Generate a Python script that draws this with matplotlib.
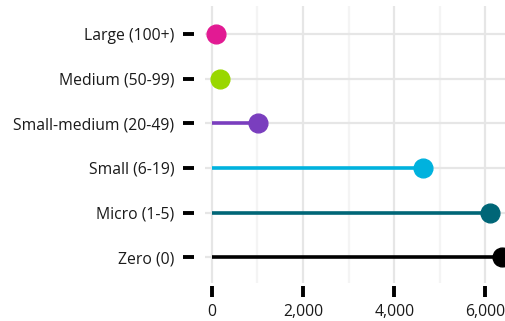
import matplotlib.pyplot as plt
from matplotlib.ticker import FuncFormatter, MultipleLocator

categories = ["Zero (0)", "Micro (1-5)", "Small (6-19)", "Small-medium (20-49)",
              "Medium (50-99)", "Large (100+)"]
values = [6360, 6100, 4630, 1010, 175, 90]
colors = ["#000000", "#006677", "#00B2DE", "#7A3EBE", "#99D700", "#E21A93"]

plt.rcParams['font.family'] = ['Open Sans', 'DejaVu Sans']

fig = plt.figure(figsize=(5.06, 3.21), dpi=100)
W, H = 506, 321
ax = fig.add_axes([205 / W, 1 - 283 / H, 301 / W, 277 / H])

ypos = list(range(len(categories)))
for y, v, c in zip(ypos, values, colors):
    ax.plot([0, v], [y, y], color=c, lw=2.6, solid_capstyle='butt', zorder=3)
    ax.plot(v, y, 'o', color=c, markersize=13.5, zorder=4, clip_on=False)

ax.set_xlim(-150, 6450)
ax.set_ylim(-0.58, 5.63)
ax.set_yticks(ypos)
ax.set_yticklabels(categories)
ax.xaxis.set_major_locator(MultipleLocator(2000))
ax.xaxis.set_minor_locator(MultipleLocator(1000))
ax.xaxis.set_major_formatter(FuncFormatter(lambda v, p: f"{int(v):,}"))

ax.grid(True, which='major', color='#e6e6e6', lw=1.6, zorder=0)
ax.grid(True, which='minor', axis='x', color='#f4f4f4', lw=1.6, zorder=0)
ax.set_axisbelow(True)

for s in ax.spines.values():
    s.set_visible(False)
ax.spines['left'].set_position(('outward', 8))
ax.spines['bottom'].set_position(('outward', 2))

ax.tick_params(axis='y', length=8, width=2.8, color='black', pad=6,
               labelsize=11.3, labelcolor='#1a1a1a')
ax.tick_params(axis='x', which='major', length=8, width=2.8, color='black', pad=5,
               labelsize=11.3, labelcolor='#1a1a1a')
ax.tick_params(axis='x', which='minor', length=0)

fig.savefig("out.png", dpi=100)
